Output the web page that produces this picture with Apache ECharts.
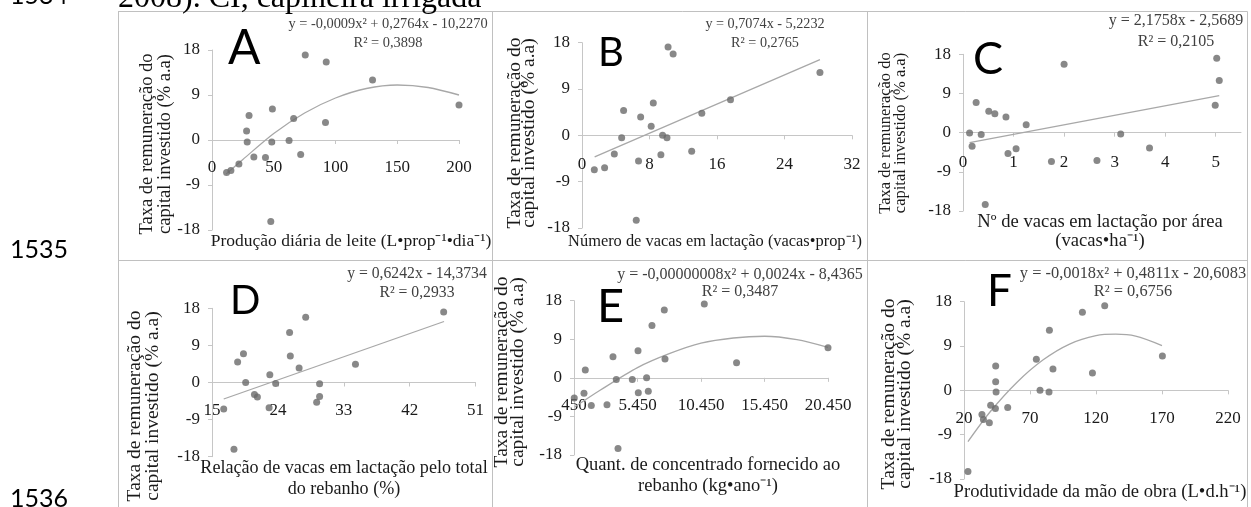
<!DOCTYPE html>
<html>
<head>
<meta charset="utf-8">
<script src="https://cdn.jsdelivr.net/npm/echarts@6/dist/echarts.min.js"></script>
<style>
html, body { margin: 0; padding: 0; background: #fff; }
#main { width: 1251px; height: 507px; }
</style>
</head>
<body>
<div id="main"></div>
<script>
// pontos de cada painel [x, y]
var pontosA = [[11.8,-6.5],[15.3,-6.1],[21.8,-4.8],[28,1.8],[28.5,-0.4],[30,4.9],[33.9,-3.4],[43.3,-3.5],[48.4,-0.4],[48.9,6.2],[47.6,-16.3],[62.4,-0.1],[66.1,4.3],[71.8,-2.9],[75.5,17],[92.5,15.6],[91.9,3.5],[130,12],[200,7]];
var pontosB = [[1.46,-6.7],[2.68,-6.3],[3.83,-3.6],[4.7,-0.45],[4.93,4.85],[6.43,-16.5],[6.7,-5.0],[6.95,3.55],[8.2,1.75],[8.45,6.3],[9.35,-3.75],[9.55,0],[10.07,-0.45],[10.2,17.15],[10.8,15.8],[13.0,-3.1],[14.2,4.3],[17.6,6.9],[28.2,12.2]];
var pontosC = [[0.13,-0.1],[0.18,-3.1],[0.26,6.9],[0.36,-0.4],[0.44,-16.5],[0.51,4.9],[0.63,4.35],[0.85,3.6],[0.89,-4.8],[1.05,-3.7],[1.25,1.8],[1.75,-6.6],[2.0,15.7],[2.65,-6.4],[3.12,-0.3],[3.69,-3.5],[4.99,6.3],[5.02,17.1],[5.07,12]];
var pontosD = [[16.6,-6.4],[18.0,-16.2],[18.5,5.0],[19.3,6.95],[19.6,0],[20.8,-2.9],[21.2,-3.5],[22.8,-6.1],[22.9,1.9],[23.7,-0.25],[25.6,12.1],[25.7,6.4],[26.9,3.5],[27.8,15.8],[29.3,-4.8],[29.7,-3.4],[29.7,-0.3],[34.6,4.4],[46.65,17.1]];
var pontosE = [[470,-4.7],[1237,-3.6],[1340,1.85],[1812,-6.45],[3048,-6.3],[3520,4.95],[3780,-0.4],[3915,-16.5],[5040,-0.4],[5490,6.35],[5513,-3.5],[6167,0],[6300,-3.1],[6590,12.2],[7560,15.85],[7615,4.4],[10710,17.25],[13250,3.55],[20450,7.0]];
var pontosF = [[23,-16.5],[33.6,-4.9],[34.7,-5.9],[39.2,-6.6],[40.2,-3.05],[43.8,-3.7],[44,4.95],[44,1.75],[44.3,-0.35],[53.1,-3.5],[74.8,6.3],[77.6,0],[84.7,12.2],[84.4,-0.35],[87.4,4.35],[109.7,15.85],[117.3,3.5],[126.6,17.2],[170.3,7]];

// linhas de tendencia
var tendA = [[11.5,-6.8],[25,-3.9],[50,1.3],[75,5.4],[100,8.4],[125,10.3],[150,11],[175,10.5],[200,9.0]];
var tendB = [[1.5,-4.2],[28.2,14.7]];
var tendC = [[0.13,-2.3],[5.07,8.5]];
var tendD = [[16.6,-4.0],[46.7,14.8]];
var tendE = [[500,-6.8],[2500,-2.9],[5450,2.4],[8000,5.7],[10450,8.1],[13000,9.3],[15450,9.7],[18000,8.9],[20450,7.1]];
var tendF = [[23,-10.4],[40,-4.3],[60,1.6],[80,6.2],[100,9.4],[120,11.1],[135,11.4],[150,11],[170,9.1]];
var curva = [true, false, false, false, true, true];

// eixos
var xMin = [0, 0, 0, 15, 450, 20];
var xMax = [200, 32, 5.5, 51, 20450, 220];
var xPasso = [50, 8, 1, 9, 5000, 50];
var yMin = -18, yMax = 18, yPasso = 9;

// textos
var letras = ['A', 'B', 'C', 'D', 'E', 'F'];
var equacoes = ['y = -0,0009x² + 0,2764x - 10,2270', 'y = 0,7074x - 5,2232', 'y = 2,1758x - 2,5689',
    'y = 0,6242x - 14,3734', 'y = -0,00000008x² + 0,0024x - 8,4365', 'y = -0,0018x² + 0,4811x - 20,6083'];
var r2 = ['R² = 0,3898', 'R² = 0,2765', 'R² = 0,2105', 'R² = 0,2933', 'R² = 0,3487', 'R² = 0,6756'];
var nomesX = ['Produção diária de leite (L•prop⁻¹•dia⁻¹)', 'Número de vacas em lactação (vacas•prop⁻¹)',
    'Nº de vacas em lactação por área\n(vacas•ha⁻¹)', 'Relação de vacas em lactação pelo total\ndo rebanho (%)',
    'Quant. de concentrado fornecido ao\nrebanho (kg•ano⁻¹)', 'Produtividade da mão de obra (L•d.h⁻¹)'];
var nomeY = 'Taxa de remuneração do\ncapital investido (% a.a)';

var pontos = [pontosA, pontosB, pontosC, pontosD, pontosE, pontosF];
var tend = [tendA, tendB, tendC, tendD, tendE, tendF];

// posicao de cada painel na pagina
// grid: [left, top, width, height]; letra: [x, y, fonte]; eq: [x, y1, y2, fonte]
// nx: [x, y, fonte, entrelinha]; ny: [x, y, fonte, entrelinha]; mx: margem dos rotulos x
var layout = [
    {grid: [212, 50, 247, 180], letra: [228, 49, 48], eq: [388, 24, 43, 14.4], nx: [351, 241, 17.5, 20], ny: [156, 144, 18.5, 17.5], mx: 19},
    {grid: [582, 42.7, 270, 185.3], letra: [598, 53, 40], eq: [765, 24, 43, 14.2], nx: [715, 242, 16.4, 20], ny: [522, 133, 19.5, 14], mx: 21},
    {grid: [963, 54.3, 278, 156.7], letra: [973, 59, 45], eq: [1176, 21, 42, 16], nx: [1100, 231.7, 18.6, 18.5], ny: [893, 133, 16.5, 15.5], mx: 21},
    {grid: [212, 308.3, 263.5, 148.4], letra: [230, 301, 40], eq: [417, 274, 293, 15.7], nx: [344, 478.5, 18.1, 21], ny: [144, 406, 19.5, 18], mx: 20},
    {grid: [574, 300.7, 254, 154.3], letra: [597, 307, 47], eq: [740, 275, 292, 16], nx: [708, 475.5, 18.5, 21], ny: [510, 372, 19.5, 16], mx: 19},
    {grid: [964, 301.7, 264, 177.3], letra: [987, 292, 44], eq: [1133, 274, 292, 16.4], nx: [1100, 492, 18.6, 20], ny: [897, 394, 19.5, 16.5], mx: 20}
];

var serif = 'Liberation Serif';
var corEixo = '#c6c6c6';

var formatoX = function (i) {
    return function (v) {
        if (i == 2 && v % 1 != 0) return '';
        if (i == 4) return String(v).replace(/\B(?=(\d{3})+(?!\d))/g, '.');
        return String(v);
    };
};

var texto = function (x, y, txt, size, family, extra) {
    var st = {text: txt, fontSize: size, fontFamily: family, fill: '#1a1a1a',
        textAlign: 'center', textVerticalAlign: 'middle', align: 'center', verticalAlign: 'middle'};
    for (var k in (extra || {})) st[k] = extra[k];
    return {type: 'text', x: x, y: y, style: st, z: 10};
};

var linha = function (x1, y1, x2, y2) {
    return {type: 'line', shape: {x1: x1, y1: y1, x2: x2, y2: y2}, style: {stroke: '#c0c0c0', lineWidth: 1}, z: 1};
};

var grids = [], xAxes = [], yAxes = [], series = [];
var graphic = [
    linha(118, 11.5, 1247.5, 11.5),
    linha(118.5, 11.5, 118.5, 507),
    linha(492.5, 11.5, 492.5, 507),
    linha(867.5, 11.5, 867.5, 507),
    linha(1247.5, 11.5, 1247.5, 507),
    linha(118, 260.5, 1247.5, 260.5),
    texto(118, -1, '2008). CI, capineira irrigada', 32, serif, {textAlign: 'left', align: 'left', fill: '#000'}),
    texto(10, -4, '1534', 25, 'Lato', {textAlign: 'left', align: 'left', fill: '#000'}),
    texto(10, 250, '1535', 25, 'Lato', {textAlign: 'left', align: 'left', fill: '#000'}),
    texto(10, 499, '1536', 25, 'Lato', {textAlign: 'left', align: 'left', fill: '#000'})
];

for (var i = 0; i < 6; i++) {
    var L = layout[i];
    grids.push({left: L.grid[0], top: L.grid[1], width: L.grid[2], height: L.grid[3]});
    // eixo x levado para a linha do zero (metade do grid)
    xAxes.push({
        type: 'value', gridIndex: i, min: xMin[i], max: xMax[i], interval: xPasso[i],
        position: 'bottom', offset: -L.grid[3] / 2,
        axisLine: {onZero: false, lineStyle: {color: corEixo, width: 1}},
        axisTick: {show: true, length: 4, lineStyle: {color: corEixo}},
        axisLabel: {margin: L.mx, fontSize: 17, fontFamily: serif, color: '#1a1a1a', formatter: formatoX(i),
            showMinLabel: true, showMaxLabel: i != 2},
        splitLine: {show: false}
    });
    yAxes.push({
        type: 'value', gridIndex: i, min: yMin, max: yMax, interval: yPasso,
        axisLine: {show: true, onZero: false, lineStyle: {color: corEixo, width: 1}},
        axisTick: {show: true, length: 4, lineStyle: {color: corEixo}},
        axisLabel: {margin: 12, fontSize: 17, fontFamily: serif, color: '#1a1a1a'},
        splitLine: {show: false}
    });
    series.push({
        type: 'line', xAxisIndex: i, yAxisIndex: i, data: tend[i],
        smooth: curva[i] ? 0.3 : false, symbol: 'none', silent: true,
        lineStyle: {color: '#a8a8a8', width: 1.3}, z: 2
    });
    series.push({
        type: 'scatter', xAxisIndex: i, yAxisIndex: i, data: pontos[i],
        symbolSize: 7, itemStyle: {color: '#6a6a6a'}, clip: false, z: 3
    });
    // letra do painel
    graphic.push(texto(L.letra[0], L.letra[1], letras[i], L.letra[2], 'Lato', {textAlign: 'left', align: 'left', fill: '#000'}));
    // equacao e R2
    graphic.push(texto(L.eq[0], L.eq[1], equacoes[i], L.eq[3], serif, {fill: '#404040'}));
    graphic.push(texto(L.eq[0], L.eq[2], r2[i], L.eq[3], serif, {fill: '#404040'}));
    // nome do eixo x
    graphic.push(texto(L.nx[0], L.nx[1], nomesX[i], L.nx[2], serif, {lineHeight: L.nx[3]}));
    // nome do eixo y (girado)
    var ny = texto(L.ny[0], L.ny[1], nomeY, L.ny[2], serif, {lineHeight: L.ny[3]});
    ny.rotation = Math.PI / 2;
    graphic.push(ny);
}

var option = {
    animation: false,
    backgroundColor: '#fff',
    textStyle: {fontFamily: serif},
    grid: grids,
    xAxis: xAxes,
    yAxis: yAxes,
    series: series,
    graphic: {elements: graphic}
};

var myChart = echarts.init(document.getElementById('main'));
myChart.setOption(option);
</script>
</body>
</html>
